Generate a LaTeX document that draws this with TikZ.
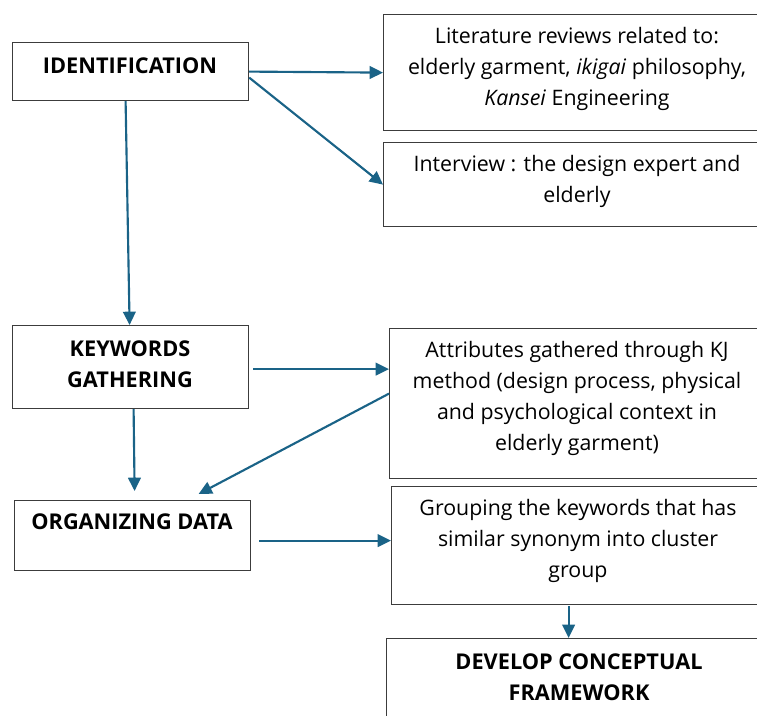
\documentclass[tikz,border=0pt]{standalone}
\usepackage{fontspec}
\setmainfont{Open Sans}
\usetikzlibrary{arrows.meta,calc}
\definecolor{arrowblue}{RGB}{26,99,135}
\definecolor{boxline}{RGB}{60,60,60}
\begin{document}
\begin{tikzpicture}[x=0.75pt,y=-0.75pt,
  box/.style={draw=boxline,line width=0.9pt,rectangle,inner sep=0pt,anchor=north west},
  arr/.style={draw=arrowblue,line width=1.6pt,-{Triangle[length=10pt,width=9.5pt]}},
  body/.style={font=\fontsize{16}{23.25}\selectfont,align=center,inner sep=0pt},
  head/.style={font=\fontsize{16.3}{23.25}\selectfont\bfseries,align=center,inner sep=0pt}]
\useasboundingbox (0,0) rectangle (757,715);
\clip (0,0) rectangle (757,715);
% boxes
\node[box,minimum width=177pt,minimum height=43.5pt] (id) at (12,42) {};
\node[box,minimum width=291pt,minimum height=87pt] (lit) at (383,14) {};
\node[box,minimum width=291pt,minimum height=63pt] (int) at (383,142) {};
\node[box,minimum width=177pt,minimum height=62.25pt] (kw) at (12,325) {};
\node[box,minimum width=282pt,minimum height=112.5pt] (att) at (389,328) {};
\node[box,minimum width=177pt,minimum height=52.5pt] (org) at (14,500) {};
\node[box,minimum width=280.5pt,minimum height=88.5pt] (grp) at (391,486) {};
\node[box,minimum width=289.5pt,minimum height=97.5pt] (dev) at (386,638) {};
% texts
\node[head] (tid) at (130,66) {IDENTIFICATION};
\node[body] (tlit) at (577,69) {Literature reviews related to:\\elderly garment, \textit{ikigai} philosophy,\\\textit{Kansei} Engineering};
\node[body] (tint) at (577,181) {Interview : the design expert and\\elderly};
\node[head] (tkw) at (130,364.5) {KEYWORDS\\GATHERING};
\node[body] (tatt) at (577,398) {Attributes gathered through KJ\\method (design process, physical\\and psychological context in\\elderly garment)};
\node[head] (torg) at (132,522) {ORGANIZING DATA};
\node[body] (tgrp) at (578,541) {Grouping the keywords that has\\similar synonym into cluster\\group};
\node[head] (tdev) at (579,677) {DEVELOP CONCEPTUAL\\FRAMEWORK};
% connectors
\draw[arr] (id.east) -- (lit.west);
\draw[arr] ($(id.east)+(0,6)$) -- (int.west);
\draw[arr] ($(id.south)+(-5,0)$) -- ($(kw.north)+(-1,0)$);
\coordinate (a1) at ($(kw.east)+(4,2)$);
\draw[arr] (a1) -- (a1 -| att.west);
\draw[arr] ($(kw.south)+(3,0)$) -- ($(org.north)+(2,-9)$);
\draw[arr] ($(att.west)+(0,-10)$) -- ($(org.north)+(66,-6)$);
\coordinate (a2) at ($(org.east)+(8,5)$);
\draw[arr] (a2) -- (a2 -| grp.west);
\coordinate (a3) at ($(grp.south)+(-10,1)$);
\draw[arr] (a3) -- (a3 |- dev.north);
\end{tikzpicture}
\end{document}
